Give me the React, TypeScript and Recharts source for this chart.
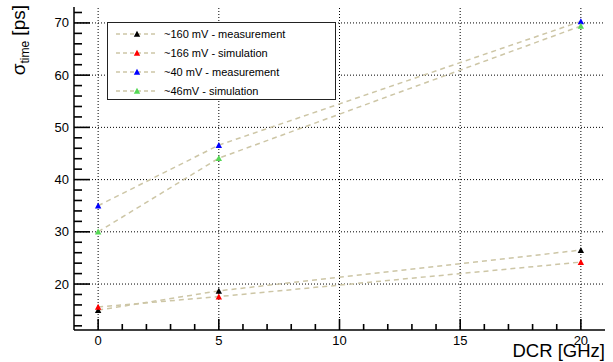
import React from 'react';
import {
  LineChart,
  Line,
  XAxis,
  YAxis,
  ReferenceLine,
  Legend,
} from 'recharts';

// DCR points (GHz)
const dcr = [0, 5, 20];

// sigma_time [ps] per series
const meas160 = [15.0, 18.7, 26.5];
const sim166 = [15.6, 17.6, 24.2];
const meas40 = [35.0, 46.6, 70.3];
const sim46 = [30.0, 44.1, 69.4];

const xTicks = [0, 1, 2, 3, 4, 5, 6, 7, 8, 9, 10, 11, 12, 13, 14, 15, 16, 17, 18, 19, 20];
const xMajor = [0, 5, 10, 15, 20];
const yTicks = [12, 14, 16, 18, 20, 22, 24, 26, 28, 30, 32, 34, 36, 38, 40, 42, 44, 46, 48, 50, 52, 54, 56, 58, 60, 62, 64, 66, 68, 70, 72];
const yMajor = [20, 30, 40, 50, 60, 70];

const SERIES = [
  { key: 'meas160', name: '~160 mV - measurement', color: '#000000', values: meas160 },
  { key: 'sim166', name: '~166 mV - simulation', color: '#ff0000', values: sim166 },
  { key: 'meas40', name: '~40 mV - measurement', color: '#0000ff', values: meas40 },
  { key: 'sim46', name: '~46mV - simulation', color: '#55d855', values: sim46 },
];

const LINE_COLOR = '#cdc6a6';
const FONT = '"Liberation Sans", Arial, Helvetica, sans-serif';

const data = dcr.map((x, i) => {
  const row: { [k: string]: number } = { dcr: x };
  SERIES.forEach((s) => {
    row[s.key] = s.values[i];
  });
  return row;
});

const Triangle = ({ cx, cy, fill }: { cx?: number; cy?: number; fill: string }) => {
  if (cx === undefined || cy === undefined) return null;
  return (
    <path
      d={`M${cx - 3.2},${cy + 2.8} L${cx + 3.2},${cy + 2.8} L${cx},${cy - 3.2} Z`}
      fill={fill}
    />
  );
};

// ROOT style: ticks point into the frame, labels only on major ticks
const XTick = (props: any) => {
  const v = props.payload.value;
  const x = Number(props.x);
  const y = Number(props.y);
  const major = xMajor.includes(v);
  const len = major ? 11 : 6;
  return (
    <g>
      <rect x={x - 0.8} y={y - len} width={1.6} height={len} fill="#000000" />
      {major && (
        <text x={x} y={y + 15} textAnchor="middle" fontSize={13} fontFamily={FONT} fill="#000">
          {v}
        </text>
      )}
    </g>
  );
};

const YTick = (props: any) => {
  const v = props.payload.value;
  const x = Number(props.x);
  const y = Number(props.y);
  const major = yMajor.includes(v);
  const len = major ? 16 : 8;
  return (
    <g>
      <rect x={x} y={y - 0.8} width={len} height={1.6} fill="#000000" />
      {major && (
        <text x={x - 5} y={y + 4.5} textAnchor="end" fontSize={13} fontFamily={FONT} fill="#000">
          {v}
        </text>
      )}
    </g>
  );
};

const LegendBox = () => (
  <div
    style={{
      border: '1px solid #222',
      background: '#fff',
      width: 229,
      height: 78,
      boxSizing: 'border-box',
      padding: '1px 0 0 0',
      fontFamily: FONT,
      fontSize: 11,
    }}
  >
    {SERIES.map((s) => (
      <div key={s.key} style={{ display: 'flex', alignItems: 'center', height: 19 }}>
        <svg width={56} height={10} style={{ display: 'block' }}>
          <line x1={8} x2={48} y1={5} y2={5} stroke={LINE_COLOR} strokeWidth={1.5} strokeDasharray="4 3" />
          <path d="M25.8,7.8 L32.2,7.8 L29,1.8 Z" fill={s.color} />
        </svg>
        <span style={{ color: '#000' }}>{s.name}</span>
      </div>
    ))}
  </div>
);

const YTitle = () => (
  <text
    x={25}
    y={5}
    transform="rotate(-90, 25, 5)"
    textAnchor="end"
    fontFamily={FONT}
    fill="#000"
  >
    <tspan fontSize={19}>σ</tspan>
    <tspan fontSize={12} dy={4}>time</tspan>
    <tspan fontSize={19} dy={-4}> [ps]</tspan>
  </text>
);

const App = () => {
  return (
    <div style={{ position: 'absolute', left: 0, top: 0, width: 613, height: 362, background: '#fff' }}>
      <LineChart
        width={613}
        height={362}
        data={data}
        margin={{ top: 7, right: 8, left: 0, bottom: 0 }}
      >
        <XAxis xAxisId="top" orientation="top" type="number" domain={[-1, 21]} height={0} tick={false} tickLine={false} stroke="#000" />
        <YAxis yAxisId="right" orientation="right" type="number" domain={[11.2, 73.05]} width={0} tick={false} tickLine={false} stroke="#000" />
        <XAxis
          dataKey="dcr"
          type="number"
          domain={[-1, 21]}
          ticks={xTicks}
          interval={0}
          height={32}
          tickSize={0}
          tickMargin={0}
          tickLine={false}
          stroke="#000"
          strokeWidth={1.5}
          tick={(p: any) => <XTick {...p} />}
          allowDataOverflow
        />
        <YAxis
          type="number"
          domain={[11.2, 73.05]}
          ticks={yTicks}
          interval={0}
          width={74}
          tickSize={0}
          tickMargin={0}
          tickLine={false}
          stroke="#000"
          strokeWidth={1.5}
          tick={(p: any) => <YTick {...p} />}
          allowDataOverflow
        />
        {xMajor.map((v) => (
          <ReferenceLine key={`gx-${v}`} x={v} stroke="#000" strokeDasharray="1 2" strokeWidth={1} />
        ))}
        {yMajor.map((v) => (
          <ReferenceLine key={`gy-${v}`} y={v} stroke="#000" strokeDasharray="1 2" strokeWidth={1} />
        ))}
        {SERIES.map((s) => (
          <Line
            key={`l-${s.key}`}
            dataKey={s.key}
            name={s.name}
            type="linear"
            stroke={LINE_COLOR}
            strokeWidth={1.5}
            strokeDasharray="5 4"
            dot={false}
            activeDot={false}
            isAnimationActive={false}
            legendType="none"
          />
        ))}
        {SERIES.map((s) => (
          <Line
            key={`d-${s.key}`}
            dataKey={s.key}
            type="linear"
            stroke="none"
            dot={(p: any) => <Triangle key={`t-${s.key}-${p.index}`} cx={p.cx} cy={p.cy} fill={s.color} />}
            activeDot={false}
            isAnimationActive={false}
            legendType="none"
          />
        ))}
        <Legend
          content={<LegendBox />}
          layout="vertical"
          verticalAlign="middle"
          align="center"
          wrapperStyle={{ position: 'absolute', left: 107, top: 22, width: 229, height: 78 }}
        />
        <YTitle />
        <text x={605} y={357} textAnchor="end" fontSize={18.5} fontFamily={FONT} fill="#000">
          DCR [GHz]
        </text>
      </LineChart>
    </div>
  );
};

export default App;
